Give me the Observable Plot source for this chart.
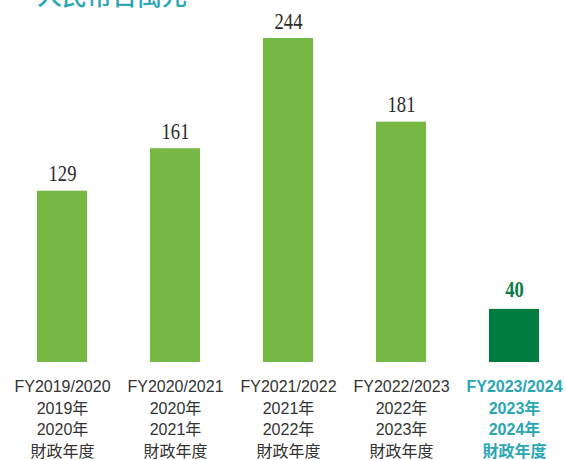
<!DOCTYPE html>
<html>
<head>
<meta charset="utf-8">
<script src="https://cdn.jsdelivr.net/npm/d3@7"></script>
<script src="https://cdn.jsdelivr.net/npm/@observablehq/plot@0.6"></script>
<style>
  html, body { margin: 0; padding: 0; background: #fff; }
  #wrap { position: relative; width: 566px; height: 460px; overflow: hidden; }
  #title { position: absolute; left: 37px; top: -24px; font-family: "Noto Sans CJK TC", sans-serif; font-size: 25px; font-weight: 500; color: #2aa6b4; white-space: nowrap; }
  #chart { position: absolute; left: 0; top: 0; }
</style>
</head>
<body>
<div id="wrap">
  <div id="title">人民幣百萬元</div>
  <div id="chart"></div>
</div>
<script>
const categories = ["FY2019/2020", "FY2020/2021", "FY2021/2022", "FY2022/2023", "FY2023/2024"];
const values = [129, 161, 244, 181, 40];
const labelLines = [
  ["FY2019/2020", "2019年", "2020年", "財政年度"],
  ["FY2020/2021", "2020年", "2021年", "財政年度"],
  ["FY2021/2022", "2021年", "2022年", "財政年度"],
  ["FY2022/2023", "2022年", "2023年", "財政年度"],
  ["FY2023/2024", "2023年", "2024年", "財政年度"]
];
const highlight = "FY2023/2024";

const data = categories.map((c, i) => ({cat: c, value: values[i], label: labelLines[i].join("\n")}));
const normal = data.filter(d => d.cat !== highlight);
const hi = data.filter(d => d.cat === highlight);

const sans = "'Liberation Sans', 'Noto Sans CJK TC', sans-serif";
const numFont = "'Liberation Serif', serif";

const chart = Plot.plot({
  width: 566,
  height: 460,
  marginLeft: 4,
  marginRight: -6,
  marginTop: 38,
  marginBottom: 98,
  x: {domain: categories, paddingInner: 0.56, paddingOuter: 0.28, axis: null},
  y: {domain: [0, 244], axis: null},
  style: {background: "transparent", overflow: "visible"},
  marks: [
    Plot.barY(normal, {x: "cat", y: "value", fill: "#76b843"}),
    Plot.barY(hi, {x: "cat", y: "value", fill: "#007c40"}),
    Plot.text(normal, {x: "cat", y: "value", text: d => String(d.value), lineAnchor: "bottom", dy: -10, fontSize: 24, fontFamily: numFont, fill: "#2b2b2b", className: "vlab"}),
    Plot.text(hi, {x: "cat", y: "value", text: d => String(d.value), lineAnchor: "bottom", dy: -12, fontSize: 24, fontWeight: "bold", fontFamily: numFont, fill: "#0b7c42", className: "vlab"}),
    Plot.text(normal, {x: "cat", y: 0, text: "label", lineAnchor: "top", dy: 14, lineHeight: 1.36, fontSize: 16, fontFamily: sans, fill: "#333333"}),
    Plot.text(hi, {x: "cat", y: 0, text: "label", lineAnchor: "top", dy: 14, lineHeight: 1.36, fontSize: 16, fontWeight: "bold", fontFamily: sans, fill: "#2aa6b4"})
  ]
});
// condense the value labels horizontally, like the reference's narrow numerals
d3.select(chart).selectAll("g.vlab text, .vlab text").each(function() {
  const n = this.textContent.length;
  this.setAttribute("textLength", n * 9.3);
  this.setAttribute("lengthAdjust", "spacingAndGlyphs");
});
document.getElementById("chart").appendChild(chart);
</script>
</body>
</html>
